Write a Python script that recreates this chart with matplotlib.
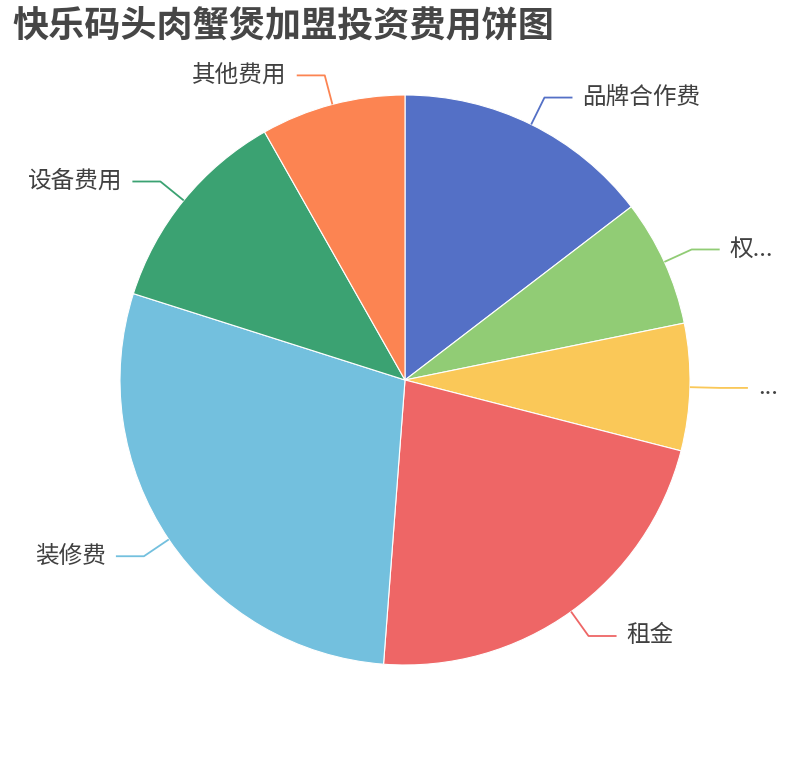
import numpy as np
import matplotlib.pyplot as plt

plt.rcParams['font.family'] = ['Noto Sans CJK SC', 'DejaVu Sans']

# pie data (share of total investment)
names = ['品牌合作费', '权益费', '保证金', '租金', '装修费', '设备费用', '其他费用']
shown = ['品牌合作费', '权...', '...', '租金', '装修费', '设备费用', '其他费用']
values = [14.6, 7.2, 7.2, 22.2, 28.7, 11.9, 8.2]
colors = ['#5470c6', '#91cc75', '#fac858', '#ee6666', '#73c0de', '#3ba272', '#fc8452']

W, H = 810, 760
fig = plt.figure(figsize=(W / 100, H / 100), dpi=100)
ax = fig.add_axes([0, 0, 1, 1])

cx, cy, r = 405, 380, 285
wedges, _ = ax.pie(values, colors=colors, startangle=90, counterclock=False,
                   center=(cx, cy), radius=r, frame=True,
                   wedgeprops=dict(edgecolor='white', linewidth=0.8))
ax.set_xlim(0, W)
ax.set_ylim(0, H)
ax.set_aspect('equal')
ax.axis('off')

# label lines: edge -> elbow -> short horizontal -> text
for w, lab, c in zip(wedges, shown, colors):
    ang = np.deg2rad((w.theta1 + w.theta2) / 2)
    x0, y0 = cx + r * np.cos(ang), cy + r * np.sin(ang)
    x1, y1 = cx + (r + 30) * np.cos(ang), cy + (r + 30) * np.sin(ang)
    side = 1 if np.cos(ang) >= 0 else -1
    x2 = x1 + side * 28
    ax.plot([x0, x1, x2], [y0, y1, y1], color=c, lw=1.3, solid_capstyle='butt')
    ax.text(x2 + side * 10, y1, lab, ha='left' if side > 0 else 'right',
            va='center', fontsize=17, color='#404040')

fig.text(12 / W, 1 - 26 / H, '快乐码头肉蟹煲加盟投资费用饼图', fontsize=26,
         fontweight='bold', color='#464646', va='center', ha='left')

fig.savefig('out.png', dpi=100)
